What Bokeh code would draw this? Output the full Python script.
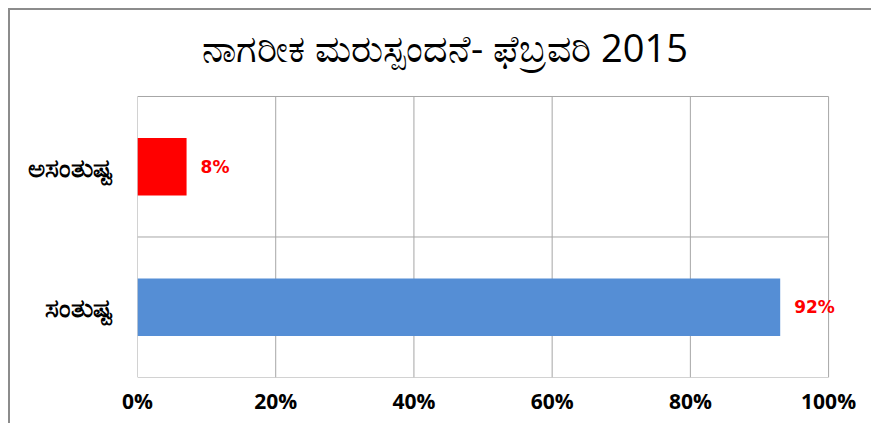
from bokeh.plotting import figure
from bokeh.models import Range1d, NumeralTickFormatter, FixedTicker, LabelSet, Label, ColumnDataSource
from bokeh.core.properties import value
from bokeh.embed import file_html
from bokeh.resources import INLINE

title_text = "ನಾಗರೀಕ ಮರುಸ್ಪಂದನೆ- ಫೆಬ್ರವರಿ 2015"
categories = ["ಸಂತುಷ್ಟ", "ಅಸಂತುಷ್ಟ"]
values = [0.93, 0.071]
data_labels = ["92%", "8%"]
bar_colors = ["#558ED5", "#FF0000"]
x_ticks = [0, 0.2, 0.4, 0.6, 0.8, 1.0]

FONT = "Open Sans"
GRID = "#a6a6a6"

n = len(categories)
ypos = [i + 0.5 for i in range(n)]
x_max = x_ticks[-1]

# plot area (0..1 x 0..n) sits inside a larger frame so that the title and
# data labels are never clipped; its border and grid are drawn explicitly
p = figure(width=863, height=415, output_backend="svg", toolbar_location=None,
           x_range=Range1d(0, 1.065), y_range=Range1d(0, n + 0.612),
           min_border_left=127, min_border_right=0, min_border_top=0, min_border_bottom=48)
p.styles = {"margin-left": "8px", "margin-top": "8px",
            "border-left": "2px solid #8c8c8c", "border-top": "2px solid #8c8c8c"}
p.outline_line_color = None
p.xgrid.grid_line_color = None
p.ygrid.grid_line_color = None

# vertical grid lines (incl. left/right border of plot area)
p.segment(x0=x_ticks, x1=x_ticks, y0=[0] * len(x_ticks), y1=[n] * len(x_ticks),
          line_color=GRID, line_width=1)
# horizontal lines: bottom, category separators, top
hy = list(range(n + 1))
p.segment(x0=[0] * len(hy), x1=[x_max] * len(hy), y0=hy, y1=hy, line_color=GRID, line_width=1)

src = ColumnDataSource(dict(y=ypos, x=values, label=data_labels, color=bar_colors))
p.hbar(y="y", right="x", left=0, height=0.41, color="color", line_color=None, source=src)
p.add_layout(LabelSet(x="x", y="y", text="label", source=src, x_offset=14,
                      text_baseline="middle", text_align="left", text_color="#FF0000",
                      text_font=value("DejaVu Sans"), text_font_style="bold",
                      text_font_size="17px"))

p.add_layout(Label(x=0.445, y=n + 0.349, text=title_text, text_align="center",
                   text_baseline="middle", text_font=FONT, text_font_size="38px",
                   text_color="#000000"))

p.xaxis.ticker = FixedTicker(ticks=x_ticks)
p.xaxis.formatter = NumeralTickFormatter(format="0%")
p.yaxis.ticker = FixedTicker(ticks=ypos)
p.yaxis.major_label_overrides = {y: c for y, c in zip(ypos, categories)}
for ax in (p.xaxis, p.yaxis):
    ax.axis_line_color = None
    ax.major_tick_line_color = None
    ax.minor_tick_line_color = None
    ax.major_label_text_font = FONT
    ax.major_label_text_font_style = "bold"
    ax.major_label_text_color = "#000000"
p.xaxis.major_label_text_font_size = "21px"
p.yaxis.major_label_text_font_size = "26px"
p.xaxis.major_label_standoff = 3
p.yaxis.major_label_standoff = 19

open("out.html", "w").write(file_html(p, INLINE))
